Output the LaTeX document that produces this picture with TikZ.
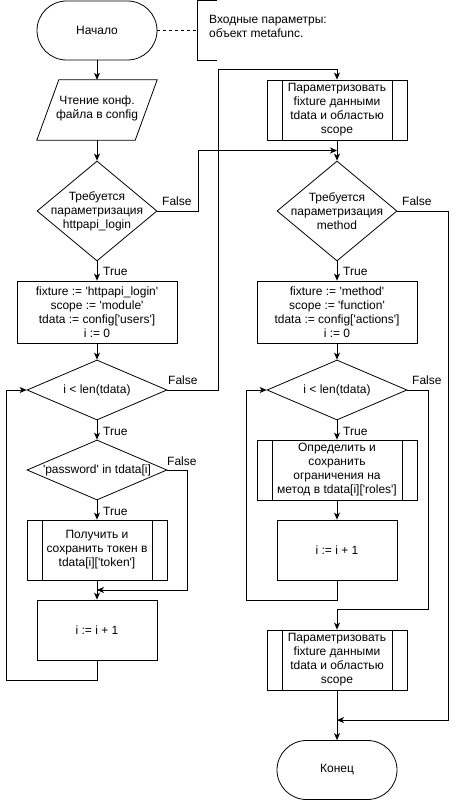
\documentclass[tikz,border=0pt]{standalone}
\usepackage{fontspec}
\setmainfont{Liberation Sans}[Ligatures=TeXOff]
\usetikzlibrary{shapes.geometric,arrows.meta,calc}
\begin{document}
\begin{tikzpicture}[x=1pt,y=-1pt,
  every node/.style={font=\fontsize{12}{14}\selectfont},
  ln/.style={line width=0.8pt},
  base/.style={draw, ln, fill=white, inner sep=0pt, align=center},
  term/.style={base, minimum width=120pt, minimum height=59pt, rounded corners=29.5pt},
  box/.style={base, minimum height=60pt},
  sub/.style={box, path picture={\draw[ln] ([xshift=15pt]path picture bounding box.north west) -- ([xshift=15pt]path picture bounding box.south west) ([xshift=-15pt]path picture bounding box.north east) -- ([xshift=-15pt]path picture bounding box.south east);}},
  dec/.style={draw, ln, diamond, inner sep=0pt},
  txt/.style={align=center, inner sep=0pt},
  lbl/.style={inner sep=1pt, anchor=west},
  arr/.style={ln, -{Stealth[length=7pt,width=6pt,inset=2pt]}},
]
\useasboundingbox (0,0) rectangle (456,802);

% left column
\node[term] (start) at (97,30.5) {Начало};
\node[minimum width=120pt, minimum height=60pt, inner sep=0pt] (read) at (97,110) {};
\draw[ln] ([xshift=22pt]read.north west) -- (read.north east) -- ([xshift=-22pt]read.south east) -- (read.south west) -- cycle;
\node[txt] (readt) at (97,108.5) {Чтение конф.\\файла в config};

\node[minimum width=20pt, minimum height=59pt, inner sep=0pt, anchor=west] (note) at (197,30.5) {};
\draw[ln] ([xshift=20pt]note.north west) -- (note.north west) -- (note.south west) -- ([xshift=20pt]note.south west);
\node[anchor=west, inner sep=0pt, align=left] (notet) at (209,26) {Входные параметры:\\объект metafunc.};

\node[dec, minimum width=120pt, minimum height=100pt] (d1) at (97,211) {};
\node[txt] (d1t) at (d1) {Требуется\\параметризация\\httpapi\_login};
\node[box, minimum width=160pt, minimum height=62pt] (r1) at (97,312) {fixture := 'httpapi\_login'\\scope := 'module'\\tdata := config['users']\\i := 0};
\node[dec, minimum width=140pt, minimum height=60pt] (d2) at (97,390) {};
\node[txt] (d2t) at (d2) {i < len(tdata)};
\node[dec, minimum width=140pt, minimum height=60pt] (d4) at (97,470) {};
\node[txt] (d4t) at (d4) {'password' in tdata[i]};
\node[sub, minimum width=140pt] (s1) at (97,550) {Получить и\\сохранить токен в\\tdata[i]['token']};
\node[box, minimum width=120pt] (r2) at (97,630) {i := i + 1};

% right column
\node[sub, minimum width=140pt] (p2) at (337,110) {Параметризовать\\fixture данными\\tdata и областью\\scope};
\node[dec, minimum width=120pt, minimum height=100pt] (d3) at (337,211) {};
\node[txt] (d3t) at (d3) {Требуется\\параметризация\\method};
\node[box, minimum width=160pt, minimum height=62pt] (r3) at (337,312) {fixture := 'method'\\scope := 'function'\\tdata := config['actions']\\i := 0};
\node[dec, minimum width=140pt, minimum height=60pt] (d5) at (337,390) {};
\node[txt] (d5t) at (d5) {i < len(tdata)};
\node[sub, minimum width=160pt] (s2) at (337,470) {Определить и\\сохранить\\ограничения на\\метод в tdata[i]['roles']};
\node[box, minimum width=120pt] (r4) at (337,550) {i := i + 1};
\node[sub, minimum width=140pt] (p3) at (337,660) {Параметризовать\\fixture данными\\tdata и областью\\scope};
\node[term] (end) at (337,770) {Конец};

% connectors
\draw[ln, dashed] (start.east) -- (note.west);
\draw[arr] (start) -- (read);
\draw[arr] (read) -- (d1);
\draw[arr] (d1) -- (r1);
\draw[arr] (d1.east) -- ++(41,0) |- ($(p2.south)!0.5!(d3.north)$);
\draw[arr] (p2) -- (d3);
\draw[arr] (r1) -- (d2);
\draw[arr] (d2.east) -- ++(51,0) |- ([yshift=10pt]p2.north) -- (p2.north);
\draw[arr] (d2) -- (d4);
\draw[arr] (d4) -- (s1);
\draw[arr] (s1) -- (r2);
\draw[arr] (d4.east) -- ++(20,0) |- ($(s1.south)!0.5!(r2.north)$);
\draw[arr] (r2.south) -- ++(0,20) -| ([xshift=-20pt]d2.west) -- (d2.west);

\draw[arr] (d3) -- (r3);
\draw[arr] (d3.east) -- ++(51,0) |- ([yshift=20pt]end.north);
\draw[arr] (r3) -- (d5);
\draw[arr] (d5) -- (s2);
\draw[arr] (s2) -- (r4);
\draw[arr] (r4.south) -- ++(0,20) -| ([xshift=-20pt]d5.west) -- (d5.west);
\draw[arr] (d5.east) -- ++(21,0) |- ([yshift=20pt]p3.north) -- (p3.north);
\draw[arr] (p3) -- (end);

% labels
\node[lbl] (f1) at (161,201) {False};
\node[lbl] (f3) at (401,201) {False};
\node[lbl] (f2) at (167,380) {False};
\node[lbl] (f5) at (411,380) {False};
\node[lbl] (f4) at (166,461) {False};
\node[lbl] (t1) at (102,271) {True};
\node[lbl] (t3) at (342,271) {True};
\node[lbl] (t2) at (102,431) {True};
\node[lbl] (t4) at (102,511) {True};
\node[lbl] (t5) at (342,431) {True};
\end{tikzpicture}
\end{document}
